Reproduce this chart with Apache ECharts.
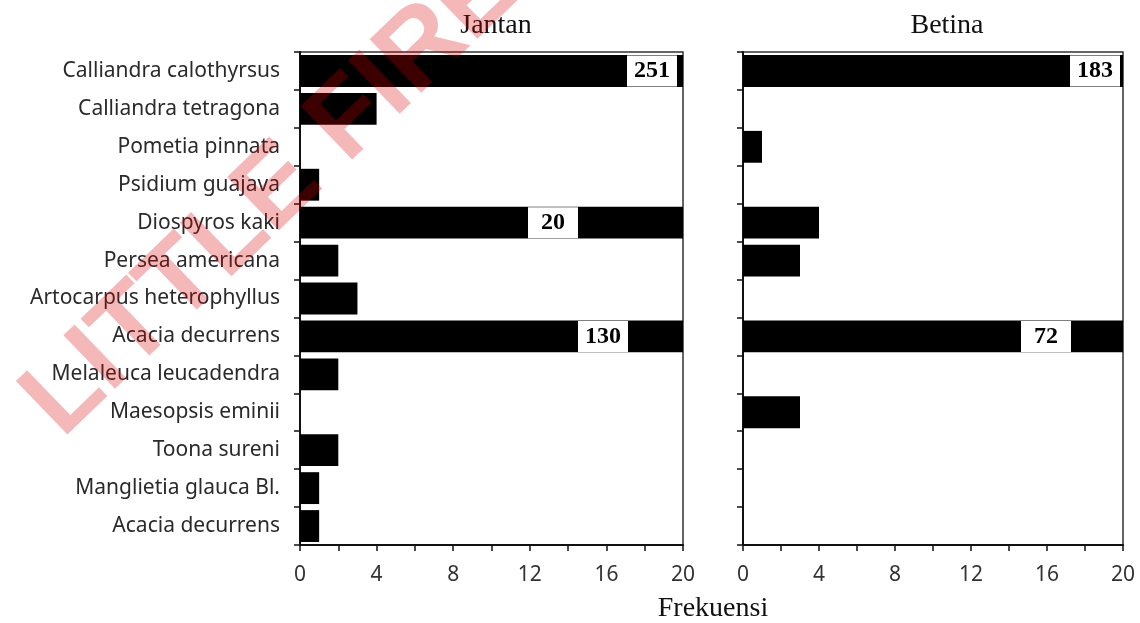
<!DOCTYPE html>
<html>
<head>
<meta charset="utf-8">
<title>Frekuensi jenis pohon — Jantan dan Betina</title>
<script src="https://cdn.jsdelivr.net/npm/echarts@6/dist/echarts.min.js"></script>
<style>
  html, body { margin: 0; padding: 0; background: #fff; }
  #chart { width: 1140px; height: 623px; }
</style>
</head>
<body>
<div id="chart"></div>
<script>
// Tree species (top to bottom)
const categories = [
  'Calliandra calothyrsus',
  'Calliandra tetragona',
  'Pometia pinnata',
  'Psidium guajava',
  'Diospyros kaki',
  'Persea americana',
  'Artocarpus heterophyllus',
  'Acacia decurrens',
  'Melaleuca leucadendra',
  'Maesopsis eminii',
  'Toona sureni',
  'Manglietia glauca Bl.',
  'Acacia decurrens'
];

// Frequencies per species
const jantanValues = [251, 4, 0, 1, 20, 2, 3, 130, 2, 0, 2, 1, 1];
const betinaValues = [183, 0, 1, 0, 4, 3, 0, 72, 0, 3, 0, 0, 0];

// Panel titles and shared axis title
const panelTitles = ['Jantan', 'Betina'];
const axisTitle = 'Frekuensi';

// Value axis: ticks every 2, labels every 4
const xMax = 20;
const xTickLabels = [0, 4, 8, 12, 16, 20];

// Horizontal shift (px, from the bar end) of the boxed value labels on
// bars that reach the axis end
const labelShift = {
  jantan: { 0: -31, 4: -130, 7: -80 },
  betina: { 0: -28, 7: -77 }
};

const sansFont = '"Noto Sans", "Open Sans", sans-serif';
const serifFont = '"Liberation Serif", "Times New Roman", serif';

function buildBars(values, shifts) {
  return values.map(function (v, i) {
    if (v < xMax) return v;
    return {
      value: v,
      label: {
        show: true,
        position: 'insideRight',
        distance: 0,
        offset: [shifts[i] || 0, 0],
        align: 'center',
        verticalAlign: 'middle',
        formatter: '{box|{c}}',
        rich: {
          box: {
            width: 50,
            height: 31,
            lineHeight: 31,
            align: 'center',
            backgroundColor: '#ffffff',
            color: '#000',
            fontFamily: serifFont,
            fontWeight: 'bold',
            fontSize: 24
          }
        }
      }
    };
  });
}

function valueAxis(gridIndex) {
  return {
    type: 'value',
    gridIndex: gridIndex,
    min: 0,
    max: xMax,
    interval: 2,
    axisLine: { show: true, lineStyle: { color: '#111', width: 2 } },
    axisTick: { show: true, length: 6, lineStyle: { color: '#111', width: 1.5 } },
    axisLabel: {
      margin: 20,
      fontFamily: sansFont,
      fontSize: 21,
      color: '#333',
      formatter: function (v) {
        return xTickLabels.indexOf(v) >= 0 ? String(v) : '';
      }
    },
    splitLine: { show: false }
  };
}

function categoryAxis(gridIndex, showLabels) {
  return {
    type: 'category',
    gridIndex: gridIndex,
    data: categories,
    inverse: true,
    boundaryGap: true,
    axisLine: { show: true, lineStyle: { color: '#111', width: 2 } },
    axisTick: { show: true, length: 6, alignWithLabel: false, lineStyle: { color: '#111', width: 1.5 } },
    axisLabel: {
      show: showLabels,
      interval: 0,
      margin: 20,
      fontFamily: sansFont,
      fontSize: 21,
      color: '#2a2a2a'
    },
    splitLine: { show: false }
  };
}

const titleStyle = { fontFamily: serifFont, fontSize: 28, fontWeight: 'normal', color: '#111' };

const option = {
  backgroundColor: '#ffffff',
  animation: false,
  title: [
    { text: panelTitles[0], left: 491, top: 7, textAlign: 'center', textStyle: titleStyle },
    { text: panelTitles[1], left: 942, top: 7, textAlign: 'center', textStyle: titleStyle },
    { text: axisTitle, left: 708, top: 590, textAlign: 'center', textStyle: titleStyle }
  ],
  grid: [
    { left: 300, right: 457, top: 52, bottom: 78, show: true, borderColor: '#333', borderWidth: 1.5, backgroundColor: 'transparent' },
    { left: 743, right: 17, top: 52, bottom: 78, show: true, borderColor: '#333', borderWidth: 1.5, backgroundColor: 'transparent' }
  ],
  xAxis: [valueAxis(0), valueAxis(1)],
  yAxis: [categoryAxis(0, true), categoryAxis(1, false)],
  series: [
    {
      name: panelTitles[0],
      type: 'bar',
      xAxisIndex: 0,
      yAxisIndex: 0,
      clip: true,
      barCategoryGap: '16%',
      itemStyle: { color: '#000' },
      data: buildBars(jantanValues, labelShift.jantan)
    },
    {
      name: panelTitles[1],
      type: 'bar',
      xAxisIndex: 1,
      yAxisIndex: 1,
      clip: true,
      barCategoryGap: '16%',
      itemStyle: { color: '#000' },
      data: buildBars(betinaValues, labelShift.betina)
    }
  ],
  graphic: [
    {
      type: 'text',
      z: 100,
      x: 79,
      y: 457,
      rotation: 44 * Math.PI / 180,
      silent: true,
      style: {
        text: 'LITTLE FIRE',
        fontFamily: '"Liberation Sans", Arial, sans-serif',
        fontWeight: 'bold',
        fontSize: 108,
        fill: 'rgba(215, 0, 0, 0.28)',
        verticalAlign: 'bottom',
        align: 'left'
      }
    }
  ]
};

const chart = echarts.init(document.getElementById('chart'), null, { renderer: 'canvas' });
chart.setOption(option);
</script>
</body>
</html>
